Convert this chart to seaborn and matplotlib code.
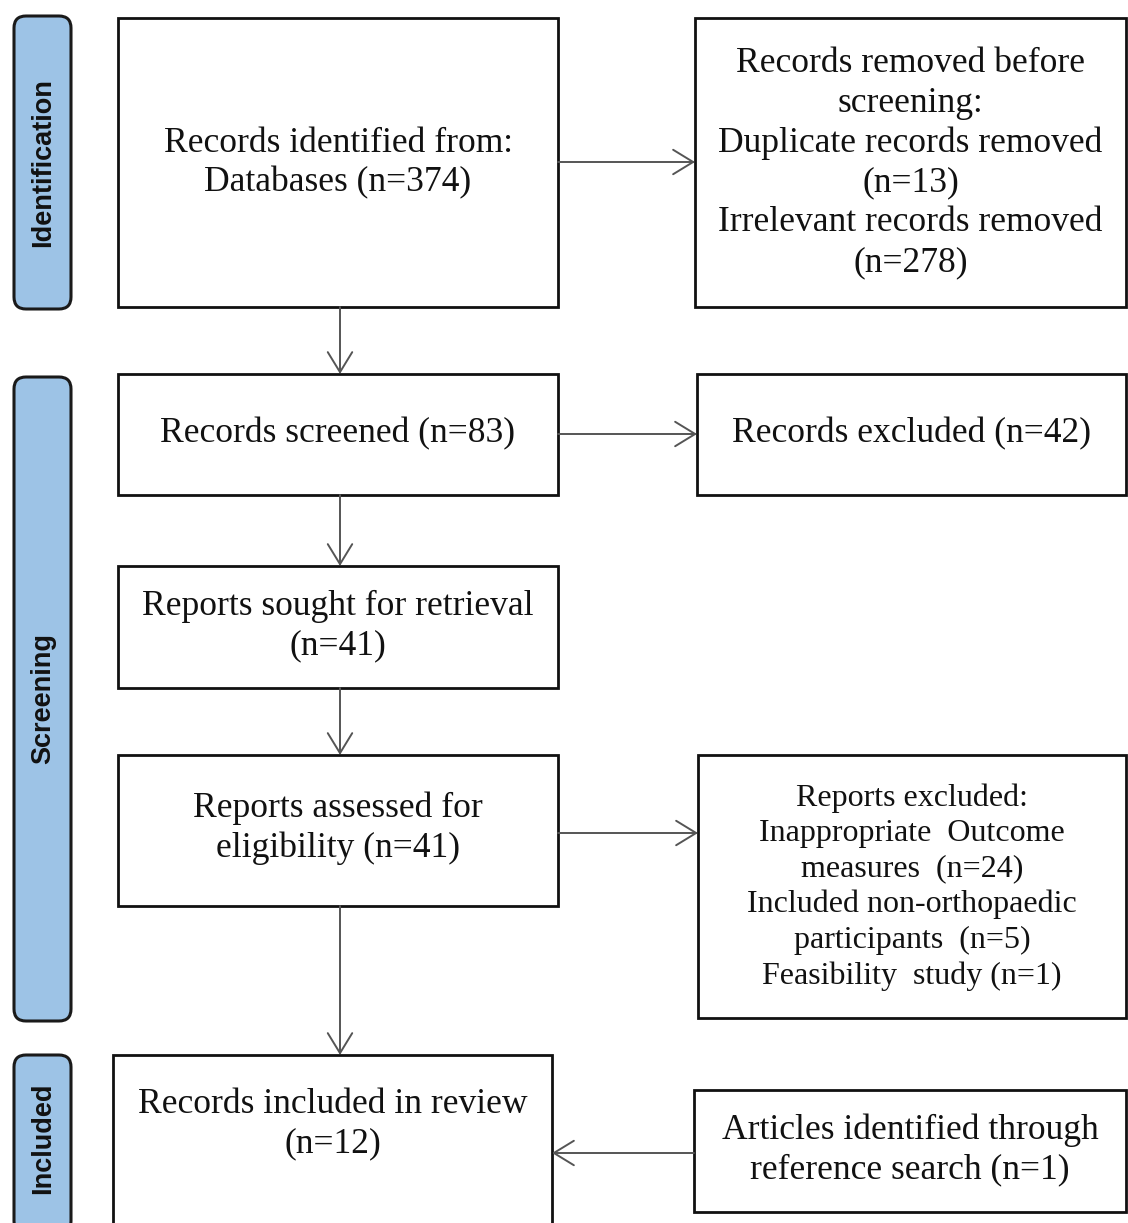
import matplotlib.pyplot as plt
import seaborn as sns
from matplotlib.patches import FancyBboxPatch, Rectangle

# stage labels on the left bars
stages = ["Identification", "Screening", "Included"]
stage_spans = [(14, 311), (375, 1023), (1053, 1235)]

# flow boxes: text, (x0, y0, x1, y1) in pixel space
box_texts = [
    "Records identified from:\nDatabases (n=374)",
    "Records removed before\nscreening:\nDuplicate records removed\n(n=13)\nIrrelevant records removed\n(n=278)",
    "Records screened (n=83)",
    "Records excluded (n=42)",
    "Reports sought for retrieval\n(n=41)",
    "Reports assessed for\neligibility (n=41)",
    "Reports excluded:\nInappropriate  Outcome\nmeasures  (n=24)\nIncluded non-orthopaedic\nparticipants  (n=5)\nFeasibility  study (n=1)",
    "Records included in review\n(n=12)",
    "Articles identified through\nreference search (n=1)",
]
box_rects = [
    (118, 18, 558, 307),
    (695, 18, 1126, 307),
    (118, 374, 558, 495),
    (697, 374, 1126, 495),
    (118, 566, 558, 688),
    (118, 755, 558, 906),
    (698, 755, 1126, 1018),
    (113, 1055, 552, 1235),
    (694, 1090, 1126, 1212),
]
box_font = [25.6, 25.6, 25.6, 25.6, 25.6, 25.6, 23, 25.6, 25.6]
text_y = [163, 163, 434, 434, 626, 828, 887, 1124, 1150]

# arrows: (start, end)
arrows = [
    ((340, 307), (340, 374)),
    ((558, 162), (695, 162)),
    ((558, 434), (697, 434)),
    ((340, 495), (340, 566)),
    ((340, 688), (340, 755)),
    ((558, 833), (698, 833)),
    ((340, 906), (340, 1055)),
    ((694, 1153), (552, 1153)),
]

sns.set_style("white")
plt.rcParams['font.family'] = ['Liberation Serif', 'DejaVu Serif']

fig = plt.figure(figsize=(11.28, 12.23), dpi=100)
ax = fig.add_axes([0, 0, 1, 1])
ax.set_xlim(0, 1128)
ax.set_ylim(1223, 0)
ax.axis("off")

for label, (y0, y1) in zip(stages, stage_spans):
    bar = FancyBboxPatch((14, y0 + 2), 57, y1 - y0 - 4,
                         boxstyle="round,pad=0,rounding_size=12",
                         facecolor="#9dc3e6", edgecolor="#1a1a1a", linewidth=2.2)
    ax.add_patch(bar)
    ax.text(43, (y0 + min(y1, 1223)) / 2, label, rotation=90, ha="center", va="center",
            fontsize=19.5, fontweight="bold", family=["Liberation Sans", "DejaVu Sans"],
            color="#111111")

for txt, (x0, y0, x1, y1), fs, ty in zip(box_texts, box_rects, box_font, text_y):
    ax.add_patch(Rectangle((x0, y0), x1 - x0, y1 - y0, facecolor="white",
                           edgecolor="#111111", linewidth=2.0))
    ax.text((x0 + x1) / 2, ty, txt, ha="center", va="center", fontsize=fs,
            linespacing=1.27 if fs > 24 else 1.29, color="#111111")

for (sx, sy), (ex, ey) in arrows:
    ax.annotate("", xy=(ex, ey), xytext=(sx, sy),
                arrowprops=dict(arrowstyle="->,head_length=0.9,head_width=0.55",
                                color="#555555", linewidth=1.4, mutation_scale=16,
                                shrinkA=0, shrinkB=0))

fig.savefig("out.png", dpi=100)
